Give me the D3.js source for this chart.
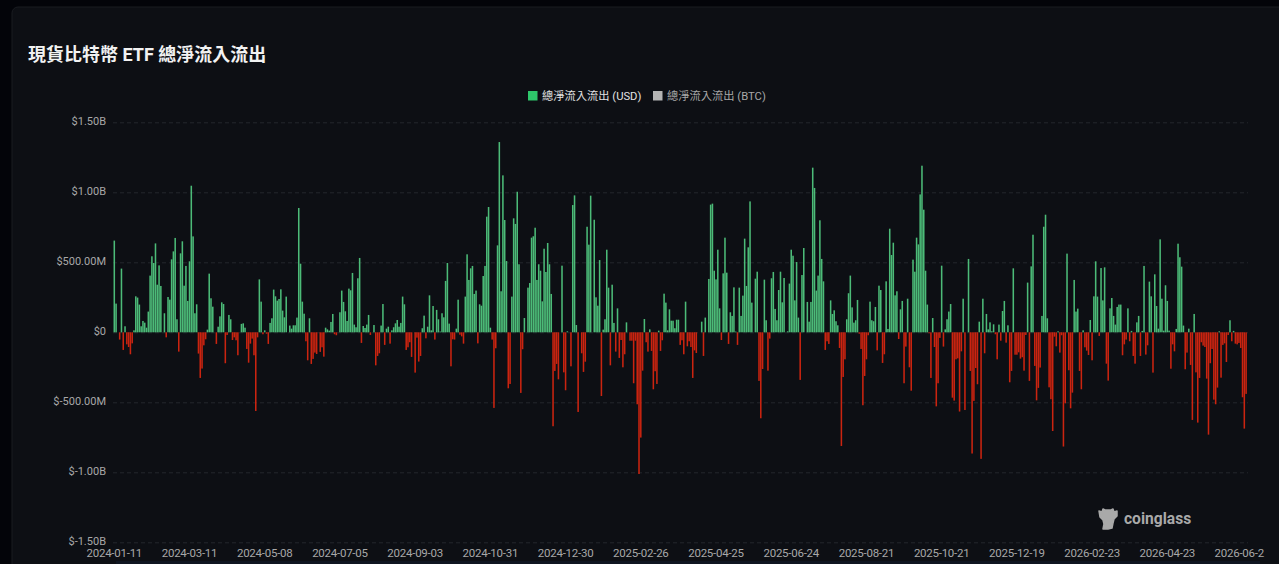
<!DOCTYPE html>
<html>
<head>
<meta charset="utf-8">
<script src="https://cdn.jsdelivr.net/npm/d3@7"></script>
<style>
	html, body { margin: 0; padding: 0; background: #030409; overflow: hidden; }
	text { font-family: Roboto, "Noto Sans CJK TC", sans-serif; }
</style>
</head>
<body>
<div id="chart"></div>
<script>
// net flow per weekday, in millions of USD
const flowsA = [
	655, 205, 0, -52, 455, -126, 43, -86, -105, -157, -79, 14, 257, 248, 198, 43, 81, 69, 33, 148,
	405, 543, 495, 635, 340, 478, 331, 0, 136, -36, 252, 233, 521, 578, 674, 93, -138, 564, 650, 333,
	474, 224, 507, 1047, 685, 136, 200, -152, -326, -259, -93, -50, 19, 419, 243, 183, 0, -83, 40, 114,
	214, 202, -221, -19, 124, 93, -55, -36, -57, -164, 0, 60, 64, 33, -119, -217, -81, -45, -164, -562,
	-36, 378, 219, -14, 14, -10, -83, 67, 100, 305, 257, 226, 238, 307, 155, 107, 255, 0, 48, 26,
	50, 50, 105, 888, 490, 219, 133, -64, -200, 100, -226, -190, -145, -155, 0, -140, -107, -174, 33, 21,
	12, 74, 131, -14, -21, 0, 143, 298, 217, 150, 81, 312, 300, 424, 55, 36, 386, 531, -76, 45,
	31, 55, 124, -19, 0, 52, -236, -169, -150, 48, 202, -90, 26, 40, -81, 14, 36, 64, 88, 40,
	67, 255, 200, -126, -107, -71, -176, 0, -288, -38, -209, -169, 29, 119, -43, 40, 264, 14, 188, -52,
	160, 93, 5, 136, 107, 367, 495, 62, -243, -50, -52, 26, 233, -17, -29, -81, 255, 557, 374, 457
];
const flowsB = [
	474, 274, 298, -79, 200, 190, 402, 474, 826, 895, 33, -52, -540, -114, 621, 1359, 293, 1121, 802, 509,
	-400, -369, 255, 814, 774, 1004, 486, -433, -121, 102, 0, 319, 352, 676, 686, 747, 374, 486, 440, 221,
	597, 431, 638, 486, 274, -671, -276, -226, -336, 0, 476, -286, -414, 7, 0, -243, 909, 978, 52, -569,
	0, -150, -283, -210, 754, 626, 976, 0, 804, 250, 190, 516, -455, 19, 93, 590, 319, -236, 340, 67,
	-138, 171, -183, -55, -250, -157, 71, 0, -60, -60, -364, -60, -514, -1012, -752, -274, 95, -71, -138, 21,
	-133, -407, -278, -369, 12, -133, -57, 276, 212, 14, 164, 83, 83, 29, 90, 90, -90, -57, -157, 219,
	-100, -64, -105, -326, -129, -148, 0, 0, 76, -169, 105, 0, 381, 912, 919, 440, 378, 590, 171, -55,
	421, 676, 426, -83, 143, 117, 321, 5, -90, 319, 117, 262, 669, 331, 607, 935, 212, 0, 383, 433,
	-347, -614, -262, 376, 86, -274, -45, 386, 431, 167, 86, 302, 433, 214, 388, 0, 7, 348, 590, 547,
	228, 502, 105, -340, 409, 602, 0, 217, 76, 217, 1176, 1031, 298, 405, 800, 524, 364, -126, -64, -83
];
const flowsC = [
	228, 131, 157, 79, 50, -112, -812, -319, -193, 93, 279, 405, 178, 69, 86, 231, -10, -119, -521, -312,
	-193, -21, 219, 86, 79, 181, -129, 333, 302, -219, -157, 364, 24, 740, 552, 640, 264, 293, -48, 164,
	224, -364, -102, 240, -250, -417, 519, 433, 676, 628, 985, 1190, 876, 440, 198, -7, -326, 102, -105, -529,
	-364, -40, 476, -102, 21, 93, 148, 202, -467, -488, -193, -186, -566, -136, 240, -555, 0, 524, -276, -866,
	-490, -255, -371, 76, -904, 240, -150, 131, 21, 71, 7, 57, -14, -193, 55, -60, 152, 224, -74, 50,
	-357, -276, 457, -160, -160, -143, -188, -178, -274, -19, 355, -347, 471, 697, -240, -486, -397, -252, 117, 754,
	840, 100, -393, -478, -705, -31, -100, 7, -145, -21, -816, -507, 562, -271, -543, -431, 374, 148, 169, -276,
	-407, 14, -107, -131, -162, 88, -200, 257, 507, 255, -26, 459, 228, 464, -224, -345, 171, 245, 117, 55,
	181, 198, 198, -164, -86, -52, 171, -64, 10, -169, -224, 71, 117, -169, 10, 474, -159, -93, 362, 257,
	-288, 414, 188, 26, 664, 240, 12, 336, 224, 12, -260, -86, -136, 24, 633, 536, 469, 48, -264, -145,
	26, -233, -626, 131, -286, -645, -326, -71, -95, -105, -331, -731, -221, -119, -481, -514, -395, 7, -324, -90,
	-79, -212, -19, 86, -64, 10, -81, -86, -76, -112, -464, -688, -440
];
const flows = flowsA.concat(flowsB, flowsC);

const dateLabels = [
	'2024-01-11', '2024-03-11', '2024-05-08', '2024-07-05', '2024-09-03', '2024-10-31',
	'2024-12-30', '2025-02-26', '2025-04-25', '2025-06-24', '2025-08-21', '2025-10-21',
	'2025-12-19', '2026-02-23', '2026-04-23', '2026-06-2'
];
const yTicks = [1500, 1000, 500, 0, -500, -1000, -1500];
const yLabels = ['$1.50B', '$1.00B', '$500.00M', '$0', '$-500.00M', '$-1.00B', '$-1.50B'];
const seriesNames = ['總淨流入流出 (USD)', '總淨流入流出 (BTC)'];
const tickEvery = 42;

const width = 1279, height = 564;
const margins = { left: 113, right: 32, top: 122.3, bottom: 21.7 };
const green = '#4cbb78', red = '#cb2410';

let svg = d3.select('#chart').append('svg')
	.attr('width', width)
	.attr('height', height)
	.style('display', 'block');

// panel
svg.append('rect')
	.attr('x', 12).attr('y', 7)
	.attr('width', width + 20).attr('height', height + 20)
	.attr('rx', 6)
	.attr('fill', '#0d0f14')
	.attr('stroke', '#1a1c21');

// top edge of the slider that is cut off below the chart
svg.append('rect')
	.attr('x', 116).attr('y', 561)
	.attr('width', 1144).attr('height', 3)
	.attr('fill', '#0f1520');

svg.append('text')
	.attr('x', 28).attr('y', 61)
	.attr('fill', '#f2f2f2')
	.attr('font-size', 18)
	.attr('font-weight', 700)
	.text('現貨比特幣 ETF 總淨流入流出');

let xScale = d3.scaleBand()
	.domain(d3.range(flows.length))
	.range([margins.left + 0.4, width - margins.right])
	.paddingInner(0.14)
	.paddingOuter(0.07);
let yScale = d3.scaleLinear()
	.domain([-1500, 1500])
	.range([height - margins.bottom, margins.top]);

// grid + y labels
let yAxis = d3.axisLeft(yScale)
	.tickValues(yTicks)
	.tickSize(-(width - margins.left - margins.right + 1))
	.tickPadding(7)
	.tickFormat((d, i) => yLabels[i]);
let gY = svg.append('g')
	.attr('class', 'y axis')
	.attr('transform', `translate(${margins.left},0)`)
	.call(yAxis);
gY.select('.domain').remove();
gY.selectAll('line')
	.attr('stroke', '#24272c')
	.attr('stroke-dasharray', '4 3');
gY.selectAll('text')
	.attr('fill', '#a8a8a8')
	.attr('font-size', 11)
	.attr('dy', '0.22em');

// bars
svg.append('g').attr('class', 'bars')
	.selectAll('rect')
	.data(flows)
	.join('rect')
	.attr('x', (d, i) => xScale(i))
	.attr('width', xScale.bandwidth())
	.attr('y', d => yScale(Math.max(d, 0)))
	.attr('height', d => Math.abs(yScale(d) - yScale(0)))
	.attr('fill', d => d >= 0 ? green : red);

// x labels
let xTicks = dateLabels.map((d, i) => i * tickEvery);
let xAxis = d3.axisBottom(xScale)
	.tickValues(xTicks)
	.tickSize(0)
	.tickPadding(7)
	.tickFormat((d, i) => dateLabels[i]);
let gX = svg.append('g')
	.attr('class', 'x axis')
	.attr('transform', `translate(0,${height - margins.bottom})`)
	.call(xAxis);
gX.select('.domain').remove();
gX.selectAll('text')
	.attr('fill', '#a8a8a8')
	.attr('font-size', 11.5)
	.style('letter-spacing', '-0.25px');
// last label is cut off in the source, keep it where the full date would start
gX.selectAll('text').filter((d, i) => i === dateLabels.length - 1)
	.attr('text-anchor', 'start')
	.attr('dx', -28);

// legend
let legend = svg.append('g').attr('class', 'legend');
let legendX = [528, 653], legendFill = ['#2ec76b', '#b4b4b4'], legendText = ['#e2e2e2', '#a8a8a8'];
seriesNames.forEach((name, i) => {
	legend.append('rect')
		.attr('x', legendX[i]).attr('y', 91)
		.attr('width', 9.5).attr('height', 9.5)
		.attr('fill', legendFill[i]);
	legend.append('text')
		.attr('x', legendX[i] + 14).attr('y', 99.5)
		.attr('fill', legendText[i])
		.attr('font-size', 11.25)
		.text(name);
});

// watermark
let mark = svg.append('g').attr('class', 'watermark').attr('fill', '#a9a9a9');
mark.append('path')
	.attr('stroke', '#a9a9a9')
	.attr('stroke-width', 1.5)
	.attr('stroke-linejoin', 'round')
	.attr('d', 'M1099 511 L1102 512 L1103 509 L1105 510 L1111 510 L1113 509 L1114 512 L1117 511 L1117 516 L1114 519 L1113 523 L1112 528 L1108 529 L1103 529 L1104 524 L1103 520 L1100 517 Z');
mark.append('text')
	.attr('x', 1124).attr('y', 524)
	.attr('font-size', 15.6)
	.attr('font-weight', 700)
	.text('coinglass');
</script>
</body>
</html>
